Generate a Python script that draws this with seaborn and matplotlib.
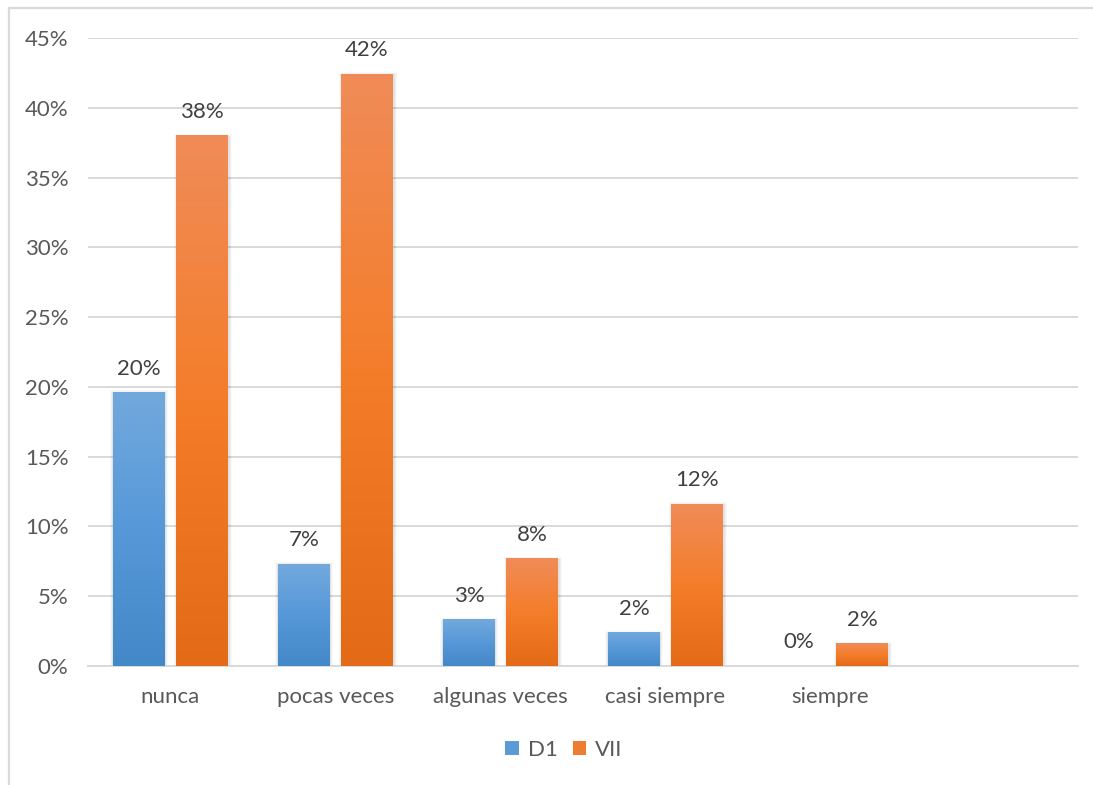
import numpy as np
import pandas as pd
import seaborn as sns
import matplotlib.pyplot as plt
from matplotlib.colors import LinearSegmentedColormap
from matplotlib.patches import Rectangle, Patch
from matplotlib.lines import Line2D

categorias = ["nunca", "pocas veces", "algunas veces", "casi siempre", "siempre"]
series = ["D1", "VII"]
valores_d1 = [0.196, 0.073, 0.033, 0.024, 0.0]
valores_vii = [0.380, 0.424, 0.077, 0.116, 0.016]
yticks = [0.0, 0.05, 0.10, 0.15, 0.20, 0.25, 0.30, 0.35, 0.40, 0.45]

df = pd.DataFrame({
    "categoria": categorias * 2,
    "serie": [series[0]] * len(categorias) + [series[1]] * len(categorias),
    "valor": valores_d1 + valores_vii,
})

azul = "#5B9BD5"
naranja = "#ED7D31"
gradientes = {
    0: LinearSegmentedColormap.from_list("azul", ["#4388C8", "#5698D8", "#72A9DD"]),
    1: LinearSegmentedColormap.from_list("naranja", ["#E36B18", "#F47D2A", "#F08C58"]),
}

sns.set_theme(style="white")
plt.rcParams["font.family"] = ["Lato", "DejaVu Sans"]

W, H = 1093, 785
fig = plt.figure(figsize=(W / 100, H / 100), dpi=100)
ax = fig.add_axes([88 / W, 119 / H, 990 / W, 628 / H])

sns.barplot(data=df, x="categoria", y="valor", hue="serie", order=categorias,
            hue_order=series, palette=[azul, naranja], width=0.764, gap=0.175,
            saturation=1, errorbar=None, legend=False, ax=ax)

xlim = (-0.5, 5.5)
ylim = (0, 0.45)
px_x = (xlim[1] - xlim[0]) / 990
px_y = (ylim[1] - ylim[0]) / 628
grad = np.linspace(0, 1, 256).reshape(-1, 1)

for i, cont in enumerate(ax.containers):
    for p in cont.patches:
        x0, w, h = p.get_x(), p.get_width(), p.get_height()
        p.set_facecolor("none")
        p.set_edgecolor("none")
        if h <= 0:
            continue
        # soft drop shadow around each bar
        for k, a in zip([3, 2, 1], [0.025, 0.035, 0.05]):
            ax.add_patch(Rectangle((x0 - k * px_x + 0.5 * px_x, -px_y * k),
                                   w + 2 * k * px_x, h + px_y * (2 * k - 1),
                                   facecolor="black", alpha=a, lw=0, zorder=2))
        ax.imshow(grad, extent=[x0, x0 + w, 0, h], origin="lower", aspect="auto",
                  cmap=gradientes[i], zorder=3, interpolation="bilinear")
    ax.bar_label(cont, fmt="{:.0%}", padding=10, fontsize=16, color="#404040")

ax.set_xlim(*xlim)
ax.set_ylim(*ylim)
ax.set_yticks(yticks)
ax.set_yticklabels([f"{v:.0%}" for v in yticks])
ax.set_xlabel("")
ax.set_ylabel("")
ax.yaxis.grid(True, color="#D9D9D9", lw=1.4)
ax.set_axisbelow(True)
for s in ["top", "right", "left"]:
    ax.spines[s].set_visible(False)
ax.spines["bottom"].set_color("#D9D9D9")
ax.spines["bottom"].set_linewidth(1.4)
ax.tick_params(axis="y", length=0, labelsize=16, labelcolor="#595959", pad=14)
ax.tick_params(axis="x", length=0, labelsize=16, labelcolor="#595959", pad=15)

handles = [Patch(facecolor=azul, edgecolor="none"), Patch(facecolor=naranja, edgecolor="none")]
fig.legend(handles, series, loc="center", bbox_to_anchor=(564 / W, 1 - 750 / H),
           ncol=2, frameon=False, fontsize=16, labelcolor="#595959",
           handlelength=0.6, handleheight=0.6, handletextpad=0.4, columnspacing=0.7)

# chart area border (top and left edges)
borde = dict(color="#D9D9D9", lw=1.6, transform=fig.transFigure)
fig.add_artist(Line2D([8.5 / W, 1], [1 - 7.5 / H, 1 - 7.5 / H], **borde))
fig.add_artist(Line2D([8.5 / W, 8.5 / W], [0, 1 - 7.5 / H], **borde))

fig.savefig("out.png", dpi=100)
